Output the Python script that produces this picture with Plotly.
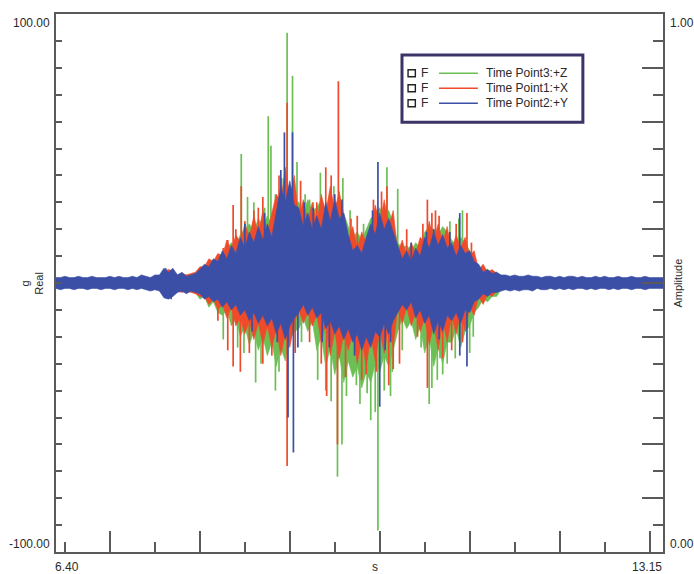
import plotly.graph_objects as go

# ---------------- data ----------------
T0 = 6.40          # first sample time (s)
DT = 0.05          # envelope sample step (s)
X_MIN, X_MAX = 6.40, 13.15
Y_MIN, Y_MAX = -100.0, 100.0
AMP_MIN, AMP_MAX = 0.0, 1.0

QUIET_HEAD_U = [2, 2, 2.5, 2, 2, 2.5, 2, 2, 2.5, 2, 2, 2, 2.5, 2, 2.5, 2, 2, 2.5, 2, 3, 2.5, 2, 3, 3]
QUIET_HEAD_L = [-2, -2.5, -2, -2, -2.5, -2, -2, -2.5, -2, -2, -2.5, -2, -2, -2.5, -2, -2, -2.5, -2, -2.5, -2,
                -2.5, -3, -2.5, -3]
QUIET_TAIL_U = [3, 3, 2.5, 3, 2.5, 2.5, 3, 2.5, 2.5, 2, 2.5, 2.5, 2, 2.5, 2, 2.5, 2.5, 2, 2.5, 2,
                2, 2.5, 2, 2.5, 2, 2, 2.5, 2, 2, 2.5, 2, 2, 2.5, 2, 2, 2, 2]
QUIET_TAIL_L = [-3, -2.5, -3, -2.5, -3, -2.5, -2.5, -3, -2, -2.5, -2.5, -2, -2.5, -2, -2.5, -2, -2.5, -2, -2, -2.5,
                -2, -2.5, -2, -2, -2.5, -2, -2.5, -2, -2, -2.5, -2, -2, -2.5, -2, -2, -2, -2]

# envelope (upper / lower peak per 0.05 s) of each channel, in g
blue_upper = (QUIET_HEAD_U
              + [5.5, 4, 5.5] + [3, 4, 2.5, 3, 3.5] + [5, 7, 6, 9, 8] + [12, 9, 14, 11]
              + [17, 13, 19, 15, 21, 16, 22, 17] + [27, 36, 30, 38, 29] + [28, 21, 26, 20]
              + [25, 20, 30, 23, 31, 24, 26] + [18, 12, 14, 11, 17] + [22, 18, 26, 20, 24, 19]
              + [14, 9, 12, 8, 13, 10] + [17, 13, 19, 14, 18, 13] + [15, 10, 14, 11, 12, 8]
              + [7, 4, 5, 3.5, 4]
              + QUIET_TAIL_U)
blue_lower = (QUIET_HEAD_L
              + [-5.5, -6, -5] + [-3.5, -3, -4, -3, -3.5] + [-4, -6, -5, -7, -6] + [-9, -7, -10, -8]
              + [-12, -10, -14, -11, -15, -12, -16, -13] + [-19, -15, -21, -16, -13] + [-11, -8, -12, -9]
              + [-13, -11, -17, -14, -19, -16, -21] + [-17, -22, -19, -25, -20] + [-24, -18, -20, -15, -19, -14]
              + [-11, -8, -10, -7, -13, -10] + [-15, -12, -19, -14, -18, -12] + [-14, -11, -15, -10, -11, -7]
              + [-6, -4, -5, -3.5, -3.5]
              + QUIET_TAIL_L)

red_upper = ([v * 0.8 for v in QUIET_HEAD_U]
             + [4.5, 5, 4.5] + [3, 3.5, 3, 3.5, 4] + [6, 6, 9, 8, 11] + [10, 16, 12, 18]
             + [15, 22, 17, 25, 18, 27, 19, 26] + [33, 30, 43, 32, 40] + [24, 31, 23, 30]
             + [22, 33, 26, 36, 27, 34, 25] + [16, 21, 13, 19, 15] + [20, 29, 22, 31, 21, 27]
             + [11, 16, 10, 15, 11, 17] + [15, 23, 16, 22, 15, 21] + [12, 18, 13, 17, 10, 12]
             + [5, 7, 4, 5, 3.5]
             + [v * 0.8 for v in QUIET_TAIL_U])
red_lower = ([v * 0.8 for v in QUIET_HEAD_L]
             + [-4.5, -5, -4.5] + [-3, -3.5, -3, -3.5, -4] + [-5, -5, -8, -6, -10] + [-8, -13, -9, -16]
             + [-13, -19, -14, -21, -15, -23, -16, -24] + [-17, -27, -19, -24, -15] + [-10, -15, -11, -16]
             + [-12, -22, -15, -27, -18, -28, -19] + [-25, -19, -30, -21, -31] + [-20, -29, -18, -26, -16, -24]
             + [-9, -15, -9, -16, -11, -18] + [-13, -23, -15, -25, -14, -22] + [-12, -19, -11, -18, -9, -12]
             + [-5, -8, -4, -5, -3]
             + [v * 0.8 for v in QUIET_TAIL_L])

green_upper = ([v * 0.8 for v in QUIET_HEAD_U]
               + [4, 4.5, 4] + [3, 3, 3, 3, 3.5] + [5, 6, 8, 7, 10] + [11, 13, 15, 14]
               + [18, 20, 22, 19, 24, 21, 25, 22] + [30, 33, 38, 34, 31] + [30, 26, 31, 27]
               + [28, 31, 27, 33, 29, 31, 26] + [21, 17, 19, 16, 20] + [24, 26, 28, 25, 27, 22]
               + [15, 13, 14, 12, 15, 13] + [19, 21, 20, 18, 21, 19] + [16, 14, 17, 15, 12, 9]
               + [6, 5, 5, 4, 4]
               + [v * 0.8 for v in QUIET_TAIL_U])
green_lower = ([v * 0.8 for v in QUIET_HEAD_L]
               + [-4, -4.5, -4] + [-3, -3, -3.5, -3, -3.5] + [-6, -5, -9, -7, -11] + [-12, -10, -16, -13]
               + [-20, -16, -23, -18, -25, -20, -27, -22] + [-31, -24, -29, -21, -18] + [-17, -13, -18, -14]
               + [-25, -20, -31, -24, -34, -27, -37] + [-29, -35, -31, -39, -33] + [-37, -30, -33, -27, -31, -25]
               + [-18, -13, -17, -14, -21, -16] + [-26, -20, -31, -24, -30, -22] + [-22, -17, -24, -18, -16, -11]
               + [-9, -6, -7, -5, -5]
               + [v * 0.8 for v in QUIET_TAIL_L])

# isolated peaks sticking out of the envelope: (time s, value g)
green_spike_t = [8.26, 8.46, 8.49, 8.53, 8.60, 8.62, 8.76, 8.79, 8.84, 8.84, 8.91, 8.97, 9.03, 9.08,
                 9.17, 9.34, 9.49, 9.53, 9.59, 9.58, 9.67, 9.70, 9.90, 9.98, 10.08, 10.05, 10.20,
                 10.55, 10.58, 10.67, 10.78, 10.75, 10.92, 11.00,
                 8.42, 8.68, 8.72, 8.88, 9.13, 9.26, 9.40, 9.44, 9.63, 9.78, 9.82, 9.95, 10.12,
                 10.25, 10.46, 10.64, 10.84, 10.88, 11.04, 9.22, 9.31, 9.46, 9.74, 9.86, 10.14, 10.70]
green_spike_v = [-21, 48, -26, 32, 30, -37, 62, 51, 33, -40, 39, 93, 77, 45,
                 33, 41, 36, -72, 39, -60, 27, -30, -51, -92, 43, -40, 35,
                 -45, -39, -28, 23, -30, 27, -26,
                 -24, -30, 28, -33, -22, 30, -40, 32, -42, -45, 22, -48, -42,
                 -25, -24, -36, -28, 24, -20, 31, -36, -44, -38, -41, -33, -34]
red_spike_t = [8.15, 8.20, 8.26, 8.31, 8.31, 8.37, 8.37, 8.46, 8.45, 8.50, 8.70, 8.70, 8.97, 8.97,
               9.40, 9.41, 9.54, 9.53, 9.93, 10.08, 10.10, 10.22, 10.53, 10.53, 10.58, 10.97,
               8.40, 8.55, 8.65, 8.80, 9.12, 9.22, 9.30, 9.46, 9.62, 9.75, 9.85, 10.02, 10.15,
               10.30, 10.42, 10.62, 10.70, 10.85, 10.92, 11.02, 8.60, 8.88, 9.06, 9.35, 9.68, 9.80,
               9.96, 10.48, 10.66, 10.80]
red_spike_v = [8.5, -14, 13, 16, -25, 29, -31, 36, -33, 23, 32, -30, 67, -68,
               43, -42, 75, -60, 31, 36, -38, -30, 31, -39, 26, 26,
               20, -26, 28, -27, 38, -22, 30, 40, -35, 25, -34, 34, -32,
               20, -20, 27, -28, 22, -22, 15, 27, 40, -26, -30, 24, -36,
               -33, 22, 25, -25]
blue_spike_t = [7.62, 7.68, 8.94, 9.03, 8.98, 9.04, 9.09, 9.98, 10.00, 10.89, 10.89, 10.97,
                8.50, 8.58, 8.72, 8.86, 9.16, 9.36, 9.50, 9.72, 9.92, 10.06, 10.35, 10.60, 10.66, 10.78,
                8.90, 9.26, 9.44, 9.58, 10.12, 10.52]
blue_spike_v = [5.5, -6, 56, 56, -50, -63, -24, 45, -46, 26, -27, -31,
                22, -18, 26, -22, 30, -22, 33, -27, 27, -25, 15, 20, -21, 19,
                42, 28, -24, 31, -22, 19]

series_names = ["Time Point3:+Z", "Time Point1:+X", "Time Point2:+Y"]
series_colors = ["#6cbf55", "#ef4b2b", "#3b4fa6"]

# ---------------- figure ----------------
times = [round(T0 + DT * i, 3) for i in range(len(blue_upper))]


def envelope(upper, lower):
    xs = times + times[::-1]
    ys = list(upper) + list(lower)[::-1]
    return xs, ys


def spikes(ts, vs):
    xs, ys = [], []
    for t, v in zip(ts, vs):
        xs += [t, t, None]
        ys += [0, v, None]
    return xs, ys


fig = go.Figure()
channels = [
    (green_upper, green_lower, green_spike_t, green_spike_v),
    (red_upper, red_lower, red_spike_t, red_spike_v),
    (blue_upper, blue_lower, blue_spike_t, blue_spike_v),
]
for (up, lo, st, sv), name, col in zip(channels, series_names, series_colors):
    ex, ey = envelope(up, lo)
    fig.add_trace(go.Scatter(x=ex, y=ey, mode="lines", fill="toself", fillcolor=col,
                             name=name, showlegend=False,
                             line=dict(color=col, width=0.6), hoverinfo="skip"))
    sx, sy = spikes(st, sv)
    fig.add_trace(go.Scatter(x=sx, y=sy, mode="lines", name=name, showlegend=False,
                             line=dict(color=col, width=1.7), hoverinfo="skip"))

# dummy trace to activate the right "Amplitude" axis
fig.add_trace(go.Scatter(x=[None], y=[None], yaxis="y2", showlegend=False, hoverinfo="skip"))

AX = "#5a5a5a"
FONT = dict(family="Liberation Sans, Arial, sans-serif", size=12, color="#2a2a2a")

fig.update_layout(
    width=694, height=574,
    margin=dict(l=56, r=31, t=14, b=22),
    paper_bgcolor="white", plot_bgcolor="white",
    showlegend=False,
    font=FONT,
    xaxis=dict(range=[X_MIN, X_MAX], showgrid=False, zeroline=False,
               showline=True, linecolor=AX, linewidth=2, mirror=True,
               ticks="inside", tick0=0, dtick=1, ticklen=21, tickwidth=1.6, tickcolor=AX,
               minor=dict(ticks="inside", tick0=0, dtick=0.5, ticklen=10, tickwidth=1.6, tickcolor=AX),
               showticklabels=False),
    yaxis=dict(range=[Y_MIN, Y_MAX], showgrid=False, zeroline=False,
               showline=True, linecolor=AX, linewidth=2,
               ticks="inside", tick0=0, dtick=10, ticklen=6, tickwidth=1.6, tickcolor=AX,
               showticklabels=False),
    yaxis2=dict(range=[AMP_MIN, AMP_MAX], overlaying="y", side="right", showgrid=False, zeroline=False,
                showline=True, linecolor=AX, linewidth=2,
                ticks="inside", tick0=0, dtick=0.1, ticklen=21, tickwidth=1.6, tickcolor=AX,
                minor=dict(ticks="inside", tick0=0, dtick=0.05, ticklen=10, tickwidth=1.6, tickcolor=AX),
                showticklabels=False),
)

# axis texts
ann = []
ann.append(dict(text=f"{Y_MAX:.2f}", xref="paper", yref="paper", x=-0.007, y=0.983,
                xanchor="right", yanchor="middle", showarrow=False))
ann.append(dict(text=f"{Y_MIN:.2f}", xref="paper", yref="paper", x=-0.007, y=0.015,
                xanchor="right", yanchor="middle", showarrow=False))
ann.append(dict(text=f"{AMP_MAX:.2f}", xref="paper", yref="paper", x=1.008, y=0.983,
                xanchor="left", yanchor="middle", showarrow=False))
ann.append(dict(text=f"{AMP_MIN:.2f}", xref="paper", yref="paper", x=1.008, y=0.015,
                xanchor="left", yanchor="middle", showarrow=False))
ann.append(dict(text=f"{X_MIN:.2f}", xref="paper", yref="paper", x=0.018, y=-0.027,
                xanchor="center", yanchor="middle", showarrow=False))
ann.append(dict(text=f"{X_MAX:.2f}", xref="paper", yref="paper", x=0.973, y=-0.027,
                xanchor="center", yanchor="middle", showarrow=False))
ann.append(dict(text="s", xref="paper", yref="paper", x=0.525, y=-0.027,
                xanchor="center", yanchor="middle", showarrow=False))
ann.append(dict(text="g<br>Real", xref="paper", yref="paper", x=-0.040, y=0.5,
                xanchor="center", yanchor="middle", textangle=-90, showarrow=False,
                font=dict(size=11)))
ann.append(dict(text="Amplitude", xref="paper", yref="paper", x=1.024, y=0.5,
                xanchor="center", yanchor="middle", textangle=-90, showarrow=False,
                font=dict(size=11)))

# legend box drawn by hand
shapes = [dict(type="rect", xref="paper", yref="paper", x0=0.570, x1=0.868, y0=0.799, y1=0.924,
               line=dict(color="#3b3466", width=3), fillcolor="white", layer="above")]
row_y = [0.890, 0.862, 0.834]
for name, col, yy in zip(series_names, series_colors, row_y):
    shapes.append(dict(type="rect", xref="paper", yref="paper", x0=0.580, x1=0.592,
                       y0=yy - 0.0065, y1=yy + 0.0065, line=dict(color="#222", width=1.4),
                       fillcolor="white", layer="above"))
    shapes.append(dict(type="line", xref="paper", yref="paper", x0=0.631, x1=0.695, y0=yy, y1=yy,
                       line=dict(color=col, width=1.6), layer="above"))
    ann.append(dict(text="F", xref="paper", yref="paper", x=0.598, y=yy, xanchor="left",
                    yanchor="middle", showarrow=False, font=dict(size=12)))
    ann.append(dict(text=name, xref="paper", yref="paper", x=0.705, y=yy, xanchor="left",
                    yanchor="middle", showarrow=False, font=dict(size=12)))

fig.update_layout(annotations=ann, shapes=shapes)
fig.write_html("out.html", config={"displayModeBar": False},
               post_script="document.body.style.margin='0px';")
